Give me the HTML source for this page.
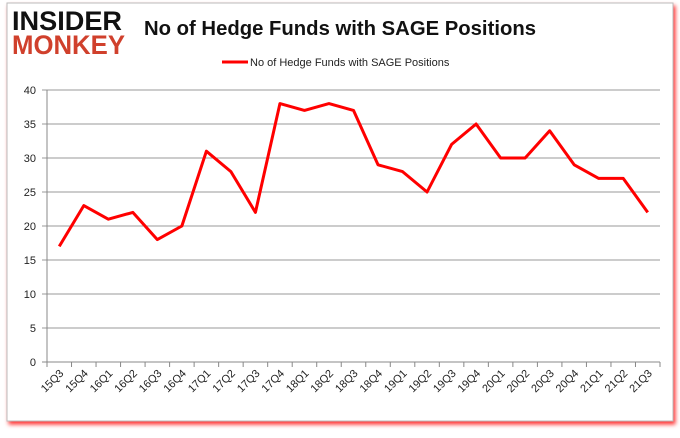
<!DOCTYPE html>
<html><head><style>
body{margin:0;background:#fff;width:680px;height:433px;overflow:hidden;font-family:"Liberation Sans",sans-serif;}
</style></head><body>
<svg width="680" height="433">
<defs><filter id="sh" x="-5%" y="-5%" width="110%" height="110%"><feDropShadow dx="2" dy="3" stdDeviation="2" flood-color="#f00" flood-opacity="0.8"/></filter></defs>
<rect x="7" y="3" width="666" height="418" fill="#fff" stroke="#bbb" filter="url(#sh)"/>
<g font-family="Liberation Sans" font-weight="bold">
<text x="12" y="30" font-size="27" fill="#111" textLength="110" lengthAdjust="spacingAndGlyphs">INSIDER</text>
<text x="12" y="54" font-size="27" fill="#d0402c" textLength="113" lengthAdjust="spacingAndGlyphs">MONKEY</text>
</g>
<text x="340" y="35" text-anchor="middle" font-size="20" font-weight="bold" fill="#111" textLength="392" lengthAdjust="spacingAndGlyphs">No of Hedge Funds with SAGE Positions</text>
<g>
<line x1="222" y1="62" x2="248" y2="62" stroke="#f00" stroke-width="3"/>
<text x="250" y="66" font-size="11" fill="#222">No of Hedge Funds with SAGE Positions</text>
</g>
<g id="grid"></g><g id="axes"></g><g id="series"></g>
</svg>
<script>
const categories=["15Q3","15Q4","16Q1","16Q2","16Q3","16Q4","17Q1","17Q2","17Q3","17Q4","18Q1","18Q2","18Q3","18Q4","19Q1","19Q2","19Q3","19Q4","20Q1","20Q2","20Q3","20Q4","21Q1","21Q2","21Q3"];
const values=[17,23,21,22,18,20,31,28,22,38,37,38,37,29,28,25,32,35,30,30,34,29,27,27,22];
const yTicks=[0,5,10,15,20,25,30,35,40];
const NS="http://www.w3.org/2000/svg";
const L=47,R=660,T=90,B=362;
const step=(R-L)/categories.length;
const x=i=>L+step*(i+0.5);
const y=v=>B-(v/40)*(B-T);
function mk(t,a,p){const e=document.createElementNS(NS,t);for(const k in a)e.setAttribute(k,a[k]);p.appendChild(e);return e;}
const grid=document.getElementById('grid'),axes=document.getElementById('axes'),series=document.getElementById('series');
yTicks.forEach(v=>{
const g=mk('line',{x1:L-5,x2:R,y1:y(v),y2:y(v),stroke:v===0?'#888':'#999','stroke-width':1},grid);


const t=mk('text',{x:L-11,y:y(v)+4,'text-anchor':'end','font-size':11,fill:'#222'},axes);
t.textContent=v;


});
const ya=mk('line',{x1:L,x2:L,y1:T,y2:B,stroke:'#888'},axes);


for(let i=0;i<=categories.length;i++){mk('line',{x1:L+step*i,x2:L+step*i,y1:B,y2:B+5,stroke:'#888'},axes);}
categories.forEach((c,i)=>{
const t=mk('text',{x:x(i)+5,y:B+12,'text-anchor':'end','font-size':11,fill:'#222',transform:`rotate(-45 ${x(i)+5} ${B+12})`},axes);
t.textContent=c;


});
const p=mk('polyline',{points:values.map((v,i)=>x(i)+','+y(v)).join(' '),fill:'none',stroke:'#f00','stroke-width':3,'stroke-linejoin':'round'},series);


</script>
</body></html>
